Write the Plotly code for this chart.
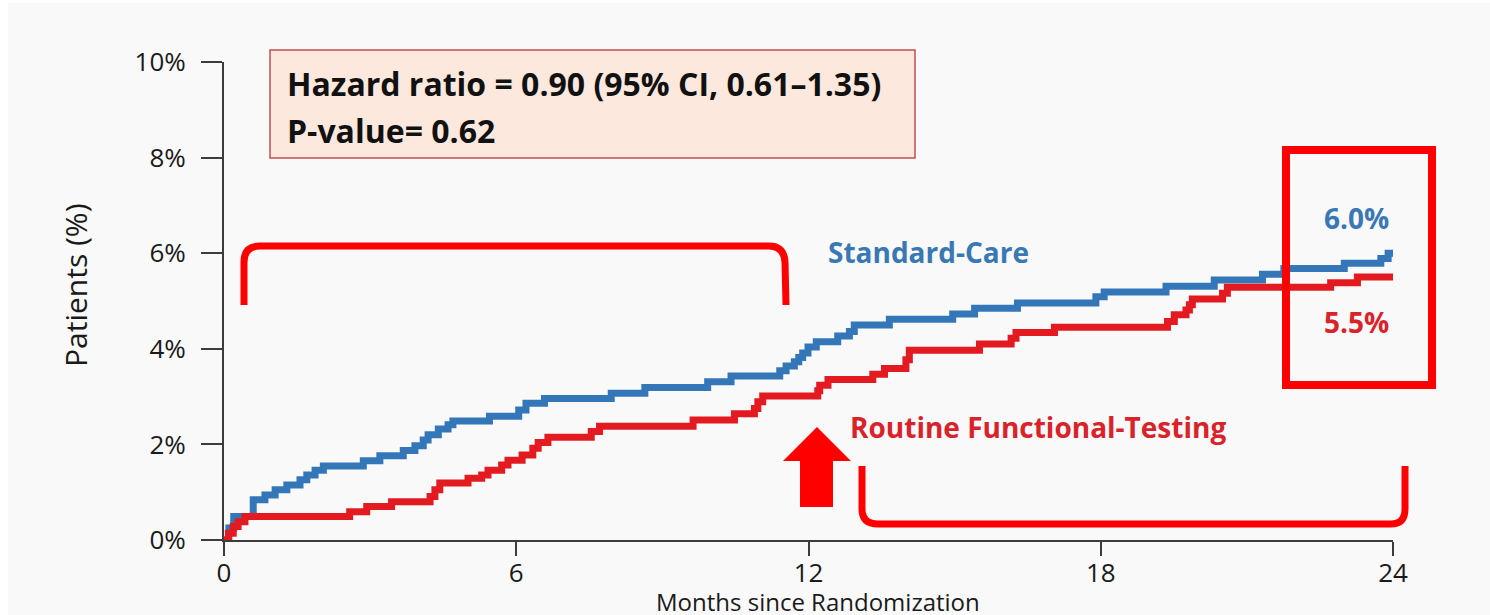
import plotly.graph_objects as go

# Cumulative event curves (months since randomization, % of patients)
standard_months = [0, 0.1, 0.2, 0.6, 0.84, 1.05, 1.29, 1.56, 1.70, 1.87,
                   2.04, 2.86, 3.20, 3.68, 3.92, 4.09, 4.19, 4.40, 4.60, 4.70,
                   5.45, 6.05, 6.2, 6.58, 7.95, 8.64, 9.93, 10.41, 11.41, 11.54,
                   11.71, 11.80, 11.88, 11.99, 12.16, 12.60, 12.84, 12.94, 13.66, 14.96,
                   15.41, 16.29, 17.90, 18.07, 19.34, 20.33, 21.32, 21.76, 23.0, 23.75,
                   23.9, 24.0]
standard_pct = [0, 0.25, 0.49, 0.84, 0.94, 1.05, 1.15, 1.26, 1.36, 1.46,
                1.55, 1.66, 1.76, 1.87, 1.97, 2.09, 2.20, 2.32, 2.41, 2.49,
                2.59, 2.72, 2.86, 2.96, 3.07, 3.19, 3.31, 3.43, 3.54, 3.64,
                3.73, 3.82, 3.91, 4.04, 4.15, 4.27, 4.36, 4.50, 4.62, 4.73,
                4.85, 4.96, 5.09, 5.19, 5.31, 5.44, 5.56, 5.68, 5.79, 5.89,
                6.0, 6.0]

routine_months = [0, 0.09, 0.19, 0.29, 0.43, 2.58, 2.93, 3.44, 4.23, 4.33,
                  4.43, 5.01, 5.29, 5.42, 5.70, 5.83, 6.12, 6.34, 6.45, 6.65,
                  7.54, 7.71, 9.63, 10.48, 10.89, 10.96, 11.06, 12.19, 12.23, 12.40,
                  13.32, 13.56, 14.00, 14.07, 15.51, 16.16, 16.26, 17.05, 19.37, 19.51,
                  19.75, 19.82, 19.88, 20.50, 20.60, 22.72, 23.27, 24.0]
routine_pct = [0, 0.14, 0.28, 0.38, 0.49, 0.59, 0.70, 0.80, 0.91, 1.05,
               1.19, 1.29, 1.36, 1.46, 1.57, 1.67, 1.78, 1.92, 2.04, 2.15,
               2.27, 2.38, 2.51, 2.64, 2.75, 2.89, 3.01, 3.12, 3.24, 3.36,
               3.47, 3.59, 3.77, 3.97, 4.10, 4.22, 4.34, 4.45, 4.57, 4.71,
               4.81, 4.92, 5.04, 5.16, 5.29, 5.38, 5.50, 5.50]

x_ticks = [0, 6, 12, 18, 24]
y_ticks = [0, 2, 4, 6, 8, 10]
y_ticktext = ["0%", "2%", "4%", "6%", "8%", "10%"]

stats_lines = ["Hazard ratio = 0.90 (95% CI, 0.61\u20131.35)", "P-value= 0.62"]

BLUE = "#3477b8"
RED = "#e31b21"
LABEL_BLUE = "#3a78b3"
LABEL_RED = "#d9232b"
MARK = "#ff0000"
AXIS = "#3c3c3c"
FONT = "'Open Sans', Lato, sans-serif"

W, H = 1490, 615
L, R, T, B = 224, 97, 62, 75
PW, PH = W - L - R, H - T - B


def px(x, y):
    """Pixel position -> paper coordinates of the plotting area."""
    return (x - L) / PW, (H - B - y) / PH


def path(cmds):
    out = []
    for c in cmds:
        if isinstance(c, str):
            out.append(c)
        else:
            a, b = px(*c)
            out.append(f"{a:.5f},{b:.5f}")
    return " ".join(out)


fig = go.Figure()
fig.add_trace(go.Scatter(x=standard_months, y=standard_pct, mode="lines",
                         line=dict(color=BLUE, width=7, shape="hv"),
                         cliponaxis=False, name="Standard-Care"))
fig.add_trace(go.Scatter(x=routine_months, y=routine_pct, mode="lines",
                         line=dict(color=RED, width=7, shape="hv"),
                         cliponaxis=False, name="Routine Functional-Testing"))

shapes = []
# statistics box
x0, y0 = px(270, 50)
x1, y1 = px(915, 158)
shapes.append(dict(type="rect", xref="paper", yref="paper", x0=x0, y0=y0, x1=x1, y1=y1,
                   line=dict(color="#c0504d", width=1.5), fillcolor="#fce8dc", layer="above"))
# upper bracket over the first year
shapes.append(dict(type="path", xref="paper", yref="paper",
                   path=path(["M", (244, 305), "L", (244, 262), "Q", (244, 246), (260, 246),
                              "L", (769, 246), "Q", (784, 246), (785, 262), "L", (786, 305)]),
                   line=dict(color=MARK, width=7)))
# lower bracket under the second year
shapes.append(dict(type="path", xref="paper", yref="paper",
                   path=path(["M", (862, 466), "L", (862, 509), "Q", (862, 524), (878, 524),
                              "L", (1391, 524), "Q", (1405, 524), (1405, 509), "L", (1405, 466)]),
                   line=dict(color=MARK, width=7)))
# box around the 24-month rates
x0, y0 = px(1286, 150)
x1, y1 = px(1432, 385)
shapes.append(dict(type="rect", xref="paper", yref="paper", x0=x0, y0=y0, x1=x1, y1=y1,
                   line=dict(color=MARK, width=8)))
# up arrow at month 12
shapes.append(dict(type="path", xref="paper", yref="paper",
                   path=path(["M", (817, 427), "L", (851, 461), "L", (833, 461), "L", (833, 507),
                              "L", (800, 507), "L", (800, 461), "L", (783, 461), "Z"]),
                   line=dict(width=0), fillcolor=MARK))
# white frame at the top and left edge
shapes.append(dict(type="rect", xref="paper", yref="paper", x0=px(0, 0)[0], y0=px(0, 0)[1],
                   x1=px(W, 3)[0], y1=px(W, 3)[1], line=dict(width=0), fillcolor="white"))
shapes.append(dict(type="rect", xref="paper", yref="paper", x0=px(0, 0)[0], y0=px(0, 0)[1],
                   x1=px(8, H)[0], y1=px(8, H)[1], line=dict(width=0), fillcolor="white"))

annotations = []


def label(text, x, y, color, size, bold=True, xanchor="center", angle=0):
    ax, ay = px(x, y)
    annotations.append(dict(text=f"<b>{text}</b>" if bold else text, x=ax, y=ay,
                            xref="paper", yref="paper", xanchor=xanchor, yanchor="middle",
                            showarrow=False, textangle=angle,
                            font=dict(family=FONT, size=size, color=color)))


label(stats_lines[0], 285, 84, "#111111", 32, xanchor="left")
label(stats_lines[1], 285, 130, "#111111", 32, xanchor="left")
label("Standard-Care", 928, 252, LABEL_BLUE, 28)
label("Routine Functional-Testing", 1038, 427, LABEL_RED, 28)
label("6.0%", 1356, 218, LABEL_BLUE, 28)
label("5.5%", 1356, 322, LABEL_RED, 28)
label("Patients (%)", 75, 285, "#1a1a1a", 30, bold=False, angle=-90)
label("Months since Randomization", 818, 601, "#1a1a1a", 24, bold=False)

fig.update_layout(
    width=W, height=H, autosize=False,
    margin=dict(l=L, r=R, t=T, b=B, pad=0),
    paper_bgcolor="#f9f9f9", plot_bgcolor="#f9f9f9",
    showlegend=False,
    font=dict(family=FONT, color="#1a1a1a"),
    shapes=shapes, annotations=annotations,
    xaxis=dict(range=[0, 24], tickvals=x_ticks, ticks="outside", ticklen=14, tickwidth=2,
               tickcolor=AXIS, showline=True, linecolor=AXIS, linewidth=2, showgrid=False,
               zeroline=False, tickfont=dict(size=26, color="#1a1a1a"), ticklabelstandoff=-5,
               layer="below traces"),
    yaxis=dict(range=[0, 10], tickvals=y_ticks, ticktext=y_ticktext, ticks="outside",
               ticklen=21, tickwidth=2, tickcolor=AXIS, showline=True, linecolor=AXIS,
               linewidth=2, showgrid=False, zeroline=False,
               tickfont=dict(size=26, color="#1a1a1a"), ticklabelstandoff=10,
               layer="below traces"),
)

fig.write_html("out.html")
